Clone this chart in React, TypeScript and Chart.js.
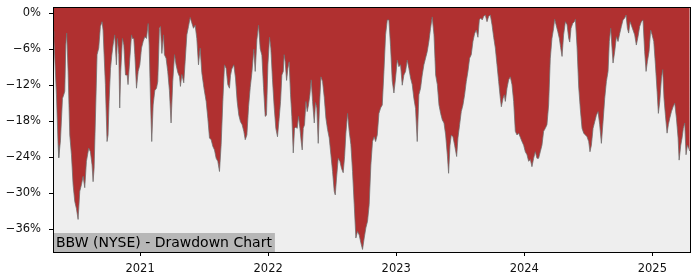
import React, { useEffect, useRef } from "react";
import { Chart, registerables } from "chart.js";
Chart.register(...registerables);

// Dates as decimal years, drawdown in percent
const dates = [
  2020.320, 2020.326, 2020.347, 2020.360, 2020.365, 2020.378, 2020.394, 2020.404, 2020.412, 2020.420,
  2020.427, 2020.438, 2020.451, 2020.464, 2020.477, 2020.490, 2020.503, 2020.516, 2020.529, 2020.542,
  2020.555, 2020.568, 2020.581, 2020.599, 2020.612, 2020.625, 2020.633, 2020.641, 2020.654, 2020.664,
  2020.677, 2020.690, 2020.703, 2020.711, 2020.719, 2020.729, 2020.742, 2020.750, 2020.758, 2020.769,
  2020.779, 2020.789, 2020.802, 2020.815, 2020.823, 2020.834, 2020.841, 2020.849, 2020.862, 2020.873,
  2020.886, 2020.899, 2020.906, 2020.920, 2020.933, 2020.940, 2020.951, 2020.959, 2020.972, 2020.985,
  2020.998, 2021.011, 2021.024, 2021.037, 2021.050, 2021.063, 2021.071, 2021.081, 2021.091, 2021.102,
  2021.115, 2021.128,
  2021.138, 2021.151, 2021.159, 2021.170, 2021.183, 2021.190, 2021.203, 2021.216, 2021.229, 2021.242,
  2021.255, 2021.269, 2021.281, 2021.295, 2021.308, 2021.315, 2021.326, 2021.341, 2021.352, 2021.365,
  2021.378, 2021.391, 2021.404, 2021.417, 2021.430, 2021.443, 2021.456, 2021.469, 2021.482, 2021.498,
  2021.516, 2021.529, 2021.542, 2021.555, 2021.568, 2021.581, 2021.594, 2021.607, 2021.620, 2021.633,
  2021.646, 2021.659, 2021.672, 2021.685, 2021.698, 2021.706, 2021.716, 2021.732, 2021.745, 2021.758,
  2021.771, 2021.784, 2021.797, 2021.810, 2021.821, 2021.834, 2021.847, 2021.860, 2021.873, 2021.888,
  2021.899, 2021.912, 2021.925, 2021.938, 2021.951, 2021.964, 2021.977,
  2021.987, 2021.998, 2022.011, 2022.021, 2022.034, 2022.047, 2022.060, 2022.073, 2022.086, 2022.097,
  2022.107, 2022.118, 2022.125, 2022.133, 2022.144, 2022.154, 2022.164, 2022.175, 2022.185, 2022.196,
  2022.206, 2022.216, 2022.227, 2022.237, 2022.248, 2022.258, 2022.266, 2022.274, 2022.284, 2022.295,
  2022.305, 2022.315, 2022.326, 2022.336, 2022.347, 2022.360, 2022.370, 2022.380, 2022.391, 2022.401,
  2022.412, 2022.425, 2022.438, 2022.451, 2022.464, 2022.477, 2022.490, 2022.503, 2022.516, 2022.524,
  2022.534, 2022.547, 2022.560, 2022.573, 2022.586, 2022.597, 2022.607, 2022.620, 2022.633, 2022.646,
  2022.659, 2022.672, 2022.685, 2022.698, 2022.711, 2022.724, 2022.737, 2022.750, 2022.763, 2022.776,
  2022.789, 2022.802, 2022.815, 2022.828,
  2022.839, 2022.852, 2022.865, 2022.878, 2022.891, 2022.904, 2022.917, 2022.930, 2022.943, 2022.956,
  2022.969, 2022.982, 2022.995, 2023.008, 2023.021, 2023.034, 2023.047, 2023.060, 2023.073, 2023.086,
  2023.099, 2023.112, 2023.125, 2023.138, 2023.151, 2023.164, 2023.177, 2023.190, 2023.203, 2023.216,
  2023.229, 2023.242, 2023.255, 2023.268, 2023.281, 2023.295, 2023.308, 2023.321, 2023.334, 2023.347,
  2023.360, 2023.373, 2023.386, 2023.399, 2023.409, 2023.420, 2023.430, 2023.443, 2023.456, 2023.472,
  2023.482, 2023.495, 2023.508, 2023.521, 2023.534, 2023.547, 2023.560, 2023.573, 2023.586, 2023.599,
  2023.612, 2023.625, 2023.638, 2023.649, 2023.659, 2023.672,
  2023.683, 2023.696, 2023.709, 2023.722, 2023.735, 2023.748, 2023.761, 2023.774, 2023.787, 2023.800,
  2023.813, 2023.821, 2023.834, 2023.844, 2023.852, 2023.865, 2023.878, 2023.891, 2023.904, 2023.917,
  2023.930, 2023.943, 2023.956, 2023.969, 2023.982, 2023.995, 2024.008, 2024.021, 2024.034, 2024.047,
  2024.060, 2024.073, 2024.086, 2024.099, 2024.112, 2024.125, 2024.138, 2024.151, 2024.164, 2024.177,
  2024.190, 2024.203, 2024.216, 2024.229, 2024.237, 2024.248, 2024.261, 2024.274, 2024.284, 2024.295,
  2024.307, 2024.321, 2024.334, 2024.347, 2024.355, 2024.365, 2024.378, 2024.391, 2024.399, 2024.412,
  2024.425, 2024.438, 2024.451, 2024.464, 2024.477, 2024.490, 2024.503,
  2024.513, 2024.524, 2024.537, 2024.550, 2024.563, 2024.576, 2024.589, 2024.602, 2024.615, 2024.628,
  2024.641, 2024.654, 2024.664, 2024.675, 2024.685, 2024.693, 2024.706, 2024.719, 2024.732, 2024.745,
  2024.758, 2024.771, 2024.784, 2024.795, 2024.805, 2024.815, 2024.826, 2024.836, 2024.849, 2024.862,
  2024.875, 2024.888, 2024.901, 2024.914, 2024.927, 2024.940, 2024.951, 2024.961, 2024.974, 2024.987,
  2024.998, 2025.011, 2025.024, 2025.037, 2025.047, 2025.058, 2025.071, 2025.081, 2025.091, 2025.102,
  2025.115, 2025.125, 2025.136, 2025.149, 2025.162, 2025.175, 2025.188, 2025.201, 2025.209, 2025.222,
  2025.232, 2025.242, 2025.253, 2025.263, 2025.274, 2025.284, 2025.292,
];

const drawdown = [
  -3.0, -3.9, -13.6, -22.0, -24.1, -21.3, -14.2, -13.6, -13.0, -5.3,
  -3.3, -9.7, -20.3, -23.6, -28.6, -31.4, -32.6, -34.4, -29.7, -28.6,
  -27.2, -29.1, -24.7, -22.5, -23.1, -25.3, -28.1, -25.9, -15.3, -6.9,
  -5.8, -2.2, -1.4, -2.8, -6.9, -11.9, -21.4, -20.3, -14.7, -9.2,
  -7.0, -5.3, -3.6, -8.6, -4.2, -6.9, -15.8, -9.7, -4.2, -5.3,
  -10.3, -10.3, -11.9, -7.5, -3.6, -4.2, -4.2, -6.9, -12.5, -9.7,
  -8.6, -5.8, -4.7, -3.9, -4.2, -1.7, -5.3, -14.3, -21.4, -15.3,
  -12.9, -12.5,
  -11.4, -2.5, -2.2, -6.7, -3.6, -6.9, -7.5, -9.7, -12.9, -18.3,
  -11.4, -6.9, -8.6, -9.9, -10.6, -12.2, -10.2, -11.6, -8.0, -3.6,
  -2.2, -0.7, -1.6, -2.5, -2.0, -4.2, -8.6, -5.8, -9.9, -12.4,
  -14.7, -17.5, -20.8, -21.1, -22.2, -22.8, -24.2, -24.7, -26.4, -21.9,
  -14.7, -8.6, -9.2, -11.9, -12.5, -10.4, -9.3, -8.6, -10.8, -14.7,
  -17.0, -18.1, -18.6, -19.7, -21.1, -20.3, -15.6, -12.4, -9.9, -6.0,
  -9.7, -4.4, -2.0, -5.9, -7.0, -12.4, -17.2,
  -17.0, -8.6, -4.0, -5.8, -11.1, -15.6, -19.2, -20.6, -17.5, -14.7,
  -10.3, -9.7, -6.9, -8.1, -11.2, -9.2, -8.1, -13.6, -17.2, -23.3,
  -19.2, -19.0, -19.2, -17.2, -19.2, -21.4, -22.8, -19.2, -18.6, -14.7,
  -16.4, -15.3, -13.6, -11.1, -14.7, -18.3, -14.9, -15.8, -21.7, -15.3,
  -10.6, -11.4, -14.0, -17.5, -19.4, -20.8, -23.6, -26.4, -29.7, -30.3,
  -27.5, -24.2, -24.7, -25.9, -26.6, -23.9, -20.0, -16.7, -19.7, -21.9,
  -26.4, -31.9, -37.5, -36.4, -37.0, -38.3, -39.4, -37.5, -35.8, -34.7,
  -31.9, -25.3, -21.4, -20.6,
  -21.4, -20.3, -16.7, -15.8, -15.3, -9.7, -3.6, -1.1, -1.1, -5.6,
  -11.3, -13.3, -10.8, -7.8, -8.9, -8.6, -12.0, -10.3, -9.7, -7.8,
  -9.2, -10.8, -11.9, -14.2, -15.9, -21.4, -13.6, -12.5, -10.3, -8.6,
  -7.5, -6.4, -4.7, -2.5, -0.6, -3.6, -10.3, -11.9, -15.3, -16.7,
  -17.8, -18.3, -20.3, -23.6, -26.7, -22.0, -20.3, -20.6, -22.0, -23.9,
  -20.8, -18.6, -16.4, -15.3, -13.6, -11.4, -9.7, -7.5, -6.9, -4.7,
  -3.4, -2.8, -4.0, -1.1, -0.8, -1.1,
  -0.5, -0.3, -1.4, -0.5, -0.3, -1.9, -4.0, -5.8, -8.6, -11.4,
  -14.2, -15.6, -14.2, -13.6, -14.7, -12.5, -11.1, -10.6, -11.9, -14.7,
  -19.7, -20.3, -20.0, -20.7, -21.4, -22.0, -23.1, -23.6, -24.7, -24.4,
  -25.6, -24.2, -23.1, -24.2, -24.2, -23.1, -22.0, -19.7, -19.2, -18.6,
  -15.3, -7.6, -4.2, -2.5, -1.0, -1.9, -3.0, -4.2, -5.7, -7.2,
  -3.6, -1.4, -1.9, -4.2, -4.8, -2.5, -1.7, -1.4, -1.0, -5.6,
  -12.3, -16.1, -19.2, -20.0, -20.3, -20.6, -21.4,
  -23.1, -22.0, -19.2, -18.1, -17.0, -16.4, -18.6, -21.7, -18.1, -14.2,
  -11.4, -9.7, -4.7, -2.5, -5.8, -8.3, -6.4, -3.9, -4.7, -3.4,
  -2.2, -1.1, -0.8, -0.3, -2.5, -3.3, -1.4, -2.0, -2.8, -3.6,
  -5.3, -3.9, -2.2, -1.4, -1.1, -6.4, -9.7, -8.1, -6.4, -2.8,
  -3.6, -4.7, -8.6, -13.0, -16.7, -14.7, -10.8, -9.4, -14.2, -17.0,
  -20.0, -18.6, -17.5, -16.4, -15.6, -15.0, -17.5, -20.8, -24.5, -22.0,
  -20.8, -19.2, -18.3, -23.6, -22.0, -22.5, -23.0,
];

const yTicks = [0, -6, -12, -18, -24, -30, -36];
const xTicks = [2021, 2022, 2023, 2024, 2025];
const labelText = "BBW (NYSE) - Drawdown Chart";

export default function App() {
  const ref = useRef<HTMLCanvasElement>(null);

  useEffect(() => {
    document.body.style.margin = "0";
    const canvas = ref.current!;
    const n = Math.min(dates.length, drawdown.length);
    const pts = [] as { x: number; y: number }[];
    for (let i = 0; i < n; i++) pts.push({ x: dates[i], y: drawdown[i] });

    const decor = {
      id: "decor",
      beforeDatasetsDraw(chart: any) {
        const { ctx, chartArea: a } = chart;
        ctx.save();
        ctx.fillStyle = "#eeeeee";
        ctx.fillRect(a.left, a.top, a.right - a.left, a.bottom - a.top);
        ctx.restore();
      },
      afterDatasetsDraw(chart: any) {
        const { ctx, chartArea: a } = chart;
        ctx.save();
        ctx.font = "14px 'DejaVu Sans'";
        const w = ctx.measureText(labelText).width;
        ctx.fillStyle = "rgba(128,128,128,0.5)";
        ctx.fillRect(a.left, a.bottom - 19, w + 6, 19);
        ctx.fillStyle = "#000";
        ctx.textBaseline = "alphabetic";
        ctx.fillText(labelText, a.left + 3, a.bottom - 5.5);
        ctx.strokeStyle = "#000";
        ctx.lineWidth = 1;
        ctx.strokeRect(a.left + 0.5, a.top + 0.5, a.right - a.left, a.bottom - a.top);
        ctx.restore();
      },
    };

    const chart = new Chart(canvas, {
      type: "line",
      data: {
        datasets: [
          {
            data: pts,
            borderColor: "rgba(110,110,110,0.75)",
            borderWidth: 1,
            backgroundColor: "#b03030",
            fill: "end",
            pointRadius: 0,
            tension: 0,
          },
        ],
      },
      options: {
        responsive: false,
        animation: false,
        devicePixelRatio: 1,
        layout: { padding: { top: 7, right: 10, left: 0, bottom: 0 } },
        plugins: { legend: { display: false }, tooltip: { enabled: false } },
        scales: {
          x: {
            type: "linear",
            min: 2020.32,
            max: 2025.294,
            afterBuildTicks: (s: any) => {
              s.ticks = xTicks.map((v) => ({ value: v }));
            },
            afterFit: (s: any) => {
              s.height = 28;
              s.paddingLeft = 0;
              s.paddingRight = 0;
            },
            ticks: {
              callback: (v: any) => String(v),
              color: "#111",
              font: { family: "'DejaVu Sans'", size: 11.5 },
              padding: 6,
              maxRotation: 0,
              autoSkip: false,
            },
            grid: { drawOnChartArea: false, drawTicks: true, tickLength: 4, color: "#000" },
            border: { display: false },
          },
          y: {
            type: "linear",
            min: -39.83,
            max: 1.05,
            afterBuildTicks: (s: any) => {
              s.ticks = yTicks.map((v) => ({ value: v }));
            },
            afterFit: (s: any) => {
              s.width = 53;
              s.paddingTop = 0;
              s.paddingBottom = 0;
            },
            ticks: {
              callback: (v: any) => (v === 0 ? "0%" : "\u2212" + Math.abs(v) + "%"),
              color: "#111",
              font: { family: "'DejaVu Sans'", size: 11.5 },
              padding: 8,
              autoSkip: false,
            },
            grid: { drawOnChartArea: false, drawTicks: true, tickLength: 4, color: "#000" },
            border: { display: false },
          },
        },
      },
      plugins: [decor],
    });
    return () => chart.destroy();
  }, []);

  return (
    <div style={{ width: 700, height: 280 }}>
      <canvas ref={ref} width={700} height={280} style={{ display: "block" }} />
    </div>
  );
}
